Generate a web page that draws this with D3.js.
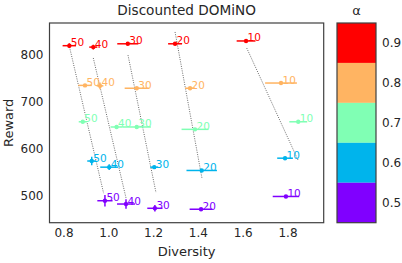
<!DOCTYPE html>
<html><head><meta charset="utf-8">
<script src="https://cdn.jsdelivr.net/npm/d3@7"></script>
<style>body{margin:0;background:#fff}svg{display:block;font-family:"DejaVu Sans",sans-serif}</style>
</head><body><svg id="c" width="402" height="263"></svg>
<script>
const alphas = [0.9, 0.8, 0.7, 0.6, 0.5];
const alphaColors = ["#ff0000", "#ffb462", "#80ffb4", "#00b4ec", "#8000ff"];
const pointLabels = ["50", "40", "30", "20", "10"];

const divRed = [0.826, 0.933, 1.087, 1.298, 1.615];
const rewRed = [818, 815, 822, 822, 828];
const divErrRed = [0.030, 0.018, 0.047, 0.031, 0.042];
const rewErrRed = [5, 5, 2, 3, 2];

const divOrange = [0.896, 0.963, 1.127, 1.365, 1.771];
const rewOrange = [734, 733, 728, 728, 739];
const divErrOrange = [0.030, 0.015, 0.054, 0.022, 0.071];
const rewErrOrange = [2, 7, 2, 2, 2];

const divGreen = [0.886, 1.037, 1.127, 1.387, 1.848];
const rewGreen = [657, 646, 646, 641, 657];
const divErrGreen = [0.018, 0.027, 0.063, 0.060, 0.040];
const rewErrGreen = [2, 3, 2, 2, 2];

const divBlue = [0.926, 1.004, 1.205, 1.417, 1.789];
const rewBlue = [574, 561, 561, 554, 580];
const divErrBlue = [0.020, 0.040, 0.018, 0.068, 0.035];
const rewErrBlue = [9, 6, 3, 2, 3];

const divPurple = [0.985, 1.079, 1.208, 1.414, 1.793];
const rewPurple = [490, 483, 474, 472, 499];
const divErrPurple = [0.034, 0.040, 0.034, 0.051, 0.059];
const rewErrPurple = [12, 10, 7, 2, 2];

const trendStartDiv = [0.827, 0.933, 1.088, 1.298, 1.618];
const trendStartRew = [815, 792, 798, 847, 813];
const trendEndDiv = [0.979, 1.079, 1.213, 1.418, 1.848];
const trendEndRew = [506, 496, 507, 538, 575];

const xTicks = [0.8, 1.0, 1.2, 1.4, 1.6, 1.8];
const yTicks = [500, 600, 700, 800];

const series = [
  {alpha: alphas[0], color: alphaColors[0], div: divRed, rew: rewRed, de: divErrRed, re: rewErrRed},
  {alpha: alphas[1], color: alphaColors[1], div: divOrange, rew: rewOrange, de: divErrOrange, re: rewErrOrange},
  {alpha: alphas[2], color: alphaColors[2], div: divGreen, rew: rewGreen, de: divErrGreen, re: rewErrGreen},
  {alpha: alphas[3], color: alphaColors[3], div: divBlue, rew: rewBlue, de: divErrBlue, re: rewErrBlue},
  {alpha: alphas[4], color: alphaColors[4], div: divPurple, rew: rewPurple, de: divErrPurple, re: rewErrPurple}
];

const svg = d3.select("#c");
const L = 49.5, R = 323.7, T = 23, B = 222.7;
const x = d3.scaleLinear().domain([0.7375, 1.9616]).range([L, R]);
const y = d3.scaleLinear().domain([443.5, 866]).range([B, T]);

// title
svg.append("text").attr("x", (L + R) / 2).attr("y", 15).attr("text-anchor", "middle")
  .attr("font-size", 13.6).attr("fill", "#262626").text("Discounted DOMiNO");

// trend lines
const tg = svg.append("g");
pointLabels.forEach((lab, i) => {
  tg.append("line")
    .attr("x1", x(trendStartDiv[i])).attr("y1", y(trendStartRew[i]))
    .attr("x2", x(trendEndDiv[i])).attr("y2", y(trendEndRew[i]))
    .attr("stroke", "#444").attr("stroke-width", 0.8).attr("stroke-dasharray", "1,1.3");
});

// points
series.forEach(s => {
  const g = svg.append("g");
  s.div.forEach((d, i) => {
    const cx = x(d), cy = y(s.rew[i]);
    g.append("line").attr("x1", x(d - s.de[i])).attr("x2", x(d + s.de[i]))
      .attr("y1", cy).attr("y2", cy).attr("stroke", s.color).attr("stroke-width", 1.5);
    g.append("line").attr("x1", cx).attr("x2", cx)
      .attr("y1", y(s.rew[i] - s.re[i])).attr("y2", y(s.rew[i] + s.re[i]))
      .attr("stroke", s.color).attr("stroke-width", 1.5);
    g.append("circle").attr("cx", cx).attr("cy", cy).attr("r", 2.2).attr("fill", s.color);
    g.append("text").attr("x", cx + 1.5).attr("y", cy + 0.5)
      .attr("font-size", 10.5).attr("fill", s.color).text(pointLabels[i]);
  });
});

// axes
const xa = svg.append("g").attr("transform", `translate(0,${B})`)
  .call(d3.axisBottom(x).tickValues(xTicks).tickFormat(d3.format(".1f")).tickSize(0).tickPadding(6));
const ya = svg.append("g").attr("transform", `translate(${L},0)`)
  .call(d3.axisLeft(y).tickValues(yTicks).tickSize(0).tickPadding(6));
[xa, ya].forEach(a => {
  a.select(".domain").remove();
  a.selectAll("text").attr("font-size", 12).attr("fill", "#262626").attr("font-family", "DejaVu Sans");
});

// frame
svg.append("rect").attr("x", L).attr("y", T).attr("width", R - L).attr("height", B - T)
  .attr("fill", "none").attr("stroke", "#404040").attr("stroke-width", 1.2);

svg.append("text").attr("x", (L + R) / 2).attr("y", 256).attr("text-anchor", "middle")
  .attr("font-size", 13).attr("fill", "#262626").text("Diversity");
svg.append("text").attr("transform", `translate(12.5,${(T + B) / 2}) rotate(-90)`)
  .attr("text-anchor", "middle").attr("font-size", 13).attr("fill", "#262626").text("Reward");

// colorbar
const cbL = 337, cbR = 376;
const cb = d3.scaleBand().domain(alphas).range([T, B]);
svg.append("g").selectAll("rect").data(series).join("rect")
  .attr("x", cbL).attr("width", cbR - cbL)
  .attr("y", d => cb(d.alpha)).attr("height", cb.bandwidth())
  .attr("fill", d => d.color);
svg.append("rect").attr("x", cbL).attr("y", T).attr("width", cbR - cbL).attr("height", B - T)
  .attr("fill", "none").attr("stroke", "#404040").attr("stroke-width", 1.2);
const ca = svg.append("g").attr("transform", `translate(${cbR},0)`)
  .call(d3.axisRight(cb).tickFormat(d3.format(".1f")).tickSize(0).tickPadding(6));
ca.select(".domain").remove();
ca.selectAll("text").attr("font-size", 12).attr("fill", "#262626").attr("font-family", "DejaVu Sans");
svg.append("text").attr("x", (cbL + cbR) / 2).attr("y", 15).attr("text-anchor", "middle")
  .attr("font-size", 13).attr("fill", "#262626").text("α");
</script></body></html>
